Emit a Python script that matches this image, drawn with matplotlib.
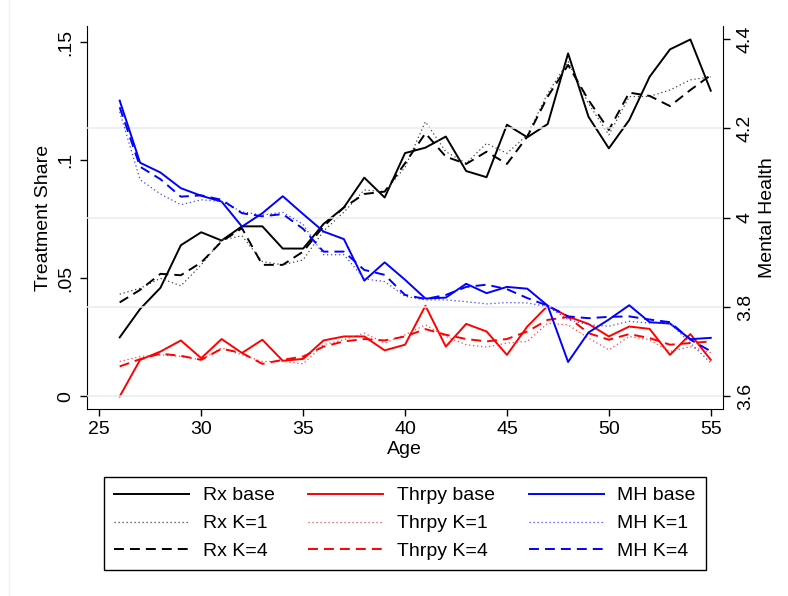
import matplotlib
matplotlib.use('Agg')
import matplotlib.pyplot as plt
from matplotlib.lines import Line2D

# treatment shares (left axis) and mental health (right axis) by age
ages = list(range(26, 56))

rx_base = [0.025, 0.037, 0.046, 0.064, 0.0695, 0.066, 0.072, 0.072, 0.0626, 0.0626,
           0.073, 0.080, 0.0926, 0.0842, 0.103, 0.1053, 0.110, 0.0954, 0.0928, 0.115,
           0.1097, 0.1153, 0.1452, 0.1184, 0.105, 0.117, 0.1353, 0.1469, 0.1511, 0.1294]
rx_k1 = [0.0433, 0.0458, 0.050, 0.0468, 0.0557, 0.0663, 0.068, 0.0571, 0.0557, 0.0578,
         0.070, 0.078, 0.0874, 0.0867, 0.097, 0.1163, 0.1036, 0.0987, 0.1071, 0.1029,
         0.1107, 0.1283, 0.1417, 0.124, 0.1107, 0.1269, 0.127, 0.1297, 0.134, 0.1353]
rx_k4 = [0.0398, 0.0451, 0.0519, 0.0513, 0.0567, 0.0656, 0.0712, 0.0557, 0.0557, 0.0613,
         0.072, 0.080, 0.0857, 0.0867, 0.0987, 0.1114, 0.1015, 0.0984, 0.1036, 0.0984,
         0.110, 0.1269, 0.1403, 0.1255, 0.1128, 0.1286, 0.1272, 0.1229, 0.1297, 0.136]

thr_base = [0.0, 0.0155, 0.019, 0.0237, 0.0162, 0.0243, 0.0184, 0.024, 0.0151, 0.0159,
            0.0237, 0.0254, 0.0254, 0.0195, 0.0219, 0.0384, 0.0211, 0.0307, 0.0275, 0.0176,
            0.0296, 0.0384, 0.0338, 0.0307, 0.0254, 0.0296, 0.0286, 0.0176, 0.0264, 0.0155]
thr_k1 = [0.0148, 0.0169, 0.0176, 0.0169, 0.0155, 0.0205, 0.0176, 0.0148, 0.0148, 0.0138,
          0.0219, 0.024, 0.0268, 0.0226, 0.0261, 0.0303, 0.0254, 0.0219, 0.0209, 0.0226,
          0.0233, 0.031, 0.0303, 0.0247, 0.0197, 0.0254, 0.024, 0.019, 0.0211, 0.0185]
thr_k4 = [0.0127, 0.0158, 0.0181, 0.0172, 0.0155, 0.0202, 0.0184, 0.0138, 0.0155, 0.0169,
          0.0211, 0.0233, 0.0243, 0.0237, 0.0254, 0.0285, 0.0261, 0.0243, 0.0233, 0.0243,
          0.0275, 0.0324, 0.0336, 0.0268, 0.024, 0.0264, 0.0247, 0.0219, 0.0226, 0.0233]

mh_base = [4.262, 4.123, 4.101, 4.066, 4.049, 4.036, 3.980, 4.010, 4.048, 4.008,
           3.969, 3.952, 3.859, 3.900, 3.861, 3.819, 3.821, 3.852, 3.831, 3.845,
           3.841, 3.803, 3.677, 3.743, 3.772, 3.804, 3.766, 3.763, 3.728, 3.731]
mh_k1 = [4.237, 4.085, 4.053, 4.029, 4.040, 4.036, 4.013, 4.006, 4.012, 3.985,
         3.917, 3.917, 3.863, 3.857, 3.824, 3.816, 3.816, 3.812, 3.807, 3.810,
         3.809, 3.801, 3.772, 3.760, 3.757, 3.768, 3.764, 3.764, 3.719, 3.675]
mh_k4 = [4.247, 4.114, 4.086, 4.047, 4.050, 4.040, 4.010, 4.003, 4.008, 3.975,
         3.924, 3.924, 3.883, 3.872, 3.827, 3.818, 3.827, 3.845, 3.850, 3.840,
         3.820, 3.803, 3.779, 3.775, 3.778, 3.779, 3.772, 3.766, 3.727, 3.701]

x_ticks = [25, 30, 35, 40, 45, 50, 55]
share_ticks = [0, 0.05, 0.1, 0.15]
share_labels = ['0', '.05', '.1', '.15']
mh_ticks = [3.6, 3.8, 4.0, 4.2, 4.4]
mh_labels = ['3.6', '3.8', '4', '4.2', '4.4']
mh_grid = [3.6, 3.8, 4.0, 4.2]

plt.rcParams['font.family'] = ['Liberation Sans', 'DejaVu Sans']
plt.rcParams['font.size'] = 14

SOLID = '-'
DOT = (0, (1, 2.2))
DASH = (0, (5.1, 3.1))

fig = plt.figure(figsize=(7.88, 5.96), dpi=100)
ax = fig.add_axes([0.1100, 0.3138, 0.8075, 0.6426])
ax2 = ax.twinx()

# light grid at the right axis ticks
for g in mh_grid:
    ax2.axhline(g, color='#e6edf0', lw=1.1, zorder=0)

h = []
h += ax.plot(ages, rx_base, color='black', ls=SOLID, lw=1.4, label='Rx base')
h += ax.plot(ages, rx_k1, color='#404040', ls=DOT, lw=0.9, label='Rx K=1')
h += ax.plot(ages, rx_k4, color='black', ls=DASH, lw=1.4, label='Rx K=4')
h += ax.plot(ages, thr_base, color='red', ls=SOLID, lw=1.4, label='Thrpy base')
h += ax.plot(ages, thr_k1, color='#ff4040', ls=DOT, lw=0.9, label='Thrpy K=1')
h += ax.plot(ages, thr_k4, color='red', ls=DASH, lw=1.4, label='Thrpy K=4')
h += ax2.plot(ages, mh_base, color='blue', ls=SOLID, lw=1.4, label='MH base')
h += ax2.plot(ages, mh_k1, color='#4040ff', ls=DOT, lw=0.9, label='MH K=1')
h += ax2.plot(ages, mh_k4, color='blue', ls=DASH, lw=1.4, label='MH K=4')

ax.set_xlim(24.38, 55.6)
ax.set_ylim(-0.0053, 0.1568)
ax2.set_ylim(3.5718, 4.429)

ax.set_xticks(x_ticks)
ax.set_yticks(share_ticks)
ax.set_yticklabels(share_labels, rotation=90, va='center')
ax2.set_yticks(mh_ticks)
ax2.set_yticklabels(mh_labels, rotation=90, va='center')

ax.tick_params(direction='out', length=5, width=1, pad=4)
ax2.tick_params(direction='out', length=5, width=1, pad=5)

for a in (ax, ax2):
    a.spines['top'].set_visible(False)
ax.spines['right'].set_visible(False)
ax2.spines['left'].set_visible(False)
ax2.spines['bottom'].set_visible(False)

ax.set_xlabel('Age', labelpad=2)
ax.set_ylabel('Treatment Share', labelpad=4)
ax2.set_ylabel('Mental Health', labelpad=4)

leg = fig.legend(h, [l.get_label() for l in h], ncol=3, loc='upper center',
                 bbox_to_anchor=(0.5138, 0.2002), frameon=True, fancybox=False,
                 edgecolor='black', framealpha=1, handlelength=3.85,
                 handletextpad=0.69, columnspacing=1.75, labelspacing=0.53,
                 borderpad=0.52, borderaxespad=0)
leg.get_frame().set_linewidth(1.0)

# faint outer region edge
fig.add_artist(Line2D([8.5 / 788, 8.5 / 788], [0, 1], color='#eef3f5', lw=1))

fig.savefig('out.png', dpi=100)
